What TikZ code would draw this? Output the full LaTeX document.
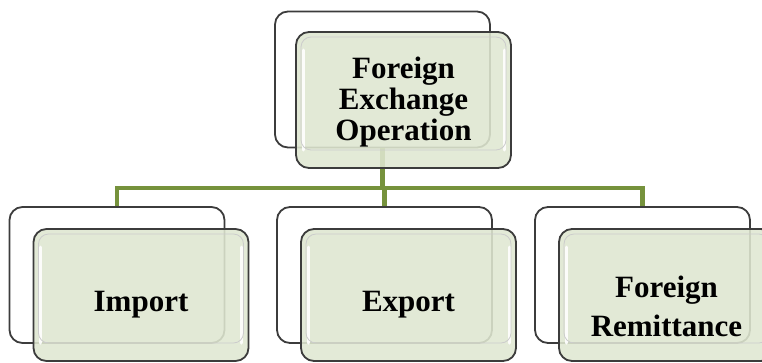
\documentclass[tikz,border=0pt]{standalone}
\usepackage{fontspec}
\setmainfont{Liberation Serif}
\usetikzlibrary{positioning,calc}
\definecolor{backline}{RGB}{60,60,60}
\definecolor{frontfill}{RGB}{223,231,209}
\definecolor{busgreen}{RGB}{118,146,60}
\tikzset{
  backbox/.style={draw=backline,line width=1.8pt,fill=white,rounded corners=13pt,
    minimum width=215pt,minimum height=136pt,inner sep=0pt},
  frontbox/.style={draw=backline,line width=1.8pt,fill=frontfill,fill opacity=0.88,
    rounded corners=13pt,minimum width=215pt,minimum height=136pt,inner sep=0pt,
    path picture={
      \draw[white,line width=3pt,opacity=0.9,line cap=round]
        ([xshift=7pt,yshift=-18pt]path picture bounding box.north west) --
        ([xshift=7pt,yshift=18pt]path picture bounding box.south west);
      \draw[white,line width=3pt,opacity=0.9,line cap=round]
        ([xshift=-7pt,yshift=-18pt]path picture bounding box.north east) --
        ([xshift=-7pt,yshift=18pt]path picture bounding box.south east);
      \draw[black!20,line width=0.8pt,rounded corners=10pt]
        ([xshift=5pt,yshift=-5pt]path picture bounding box.north west) rectangle
        ([xshift=-5pt,yshift=18pt]path picture bounding box.south east);
    }},
  lowfront/.style={frontbox,minimum height=132pt},
  boxtext/.style={font=\bfseries\fontsize{31}{31}\selectfont,align=center,text=black,inner sep=0pt},
  conn/.style={draw=busgreen,line width=4.5pt}
}

\begin{document}
\begin{tikzpicture}[x=1pt,y=-1pt]
\clip (0,0) rectangle (762,362);
% Back boxes
\node[backbox] (fxback) at (382.5,79.5) {};
\node[backbox] (impback) at (117,275) {};
\node[backbox] (expback) at (384.5,275) {};
\node[backbox] (remback) at (642.5,275) {};
% Green connectors
\coordinate (bus) at (384,188);
\draw[conn] (fxback.south) -- (fxback.south |- bus);
\draw[conn] (impback.north) |- (bus) -| (remback.north);
\draw[conn] (expback.north) -- (expback.north |- bus);
% Front boxes
\node[frontbox] (fxfront) at ($(fxback)+(21,20.5)$) {};
\node[lowfront] (impfront) at ($(impback)+(24,20)$) {};
\node[lowfront] (expfront) at ($(expback)+(24,20)$) {};
\node[lowfront] (remfront) at ($(remback)+(24,20)$) {};
% Texts
\node[boxtext] (fxtext) at ($(fxfront)+(0,2)$) {Foreign\\Exchange\\Operation};
\node[boxtext] (imptext) at ($(impfront)+(0,10)$) {Import};
\node[boxtext] (exptext) at ($(expfront)+(0,10)$) {Export};
\node[boxtext] (remtext) at ($(remfront)+(0,11)$) {Foreign\\[8pt]Remittance};
\end{tikzpicture}
\end{document}
